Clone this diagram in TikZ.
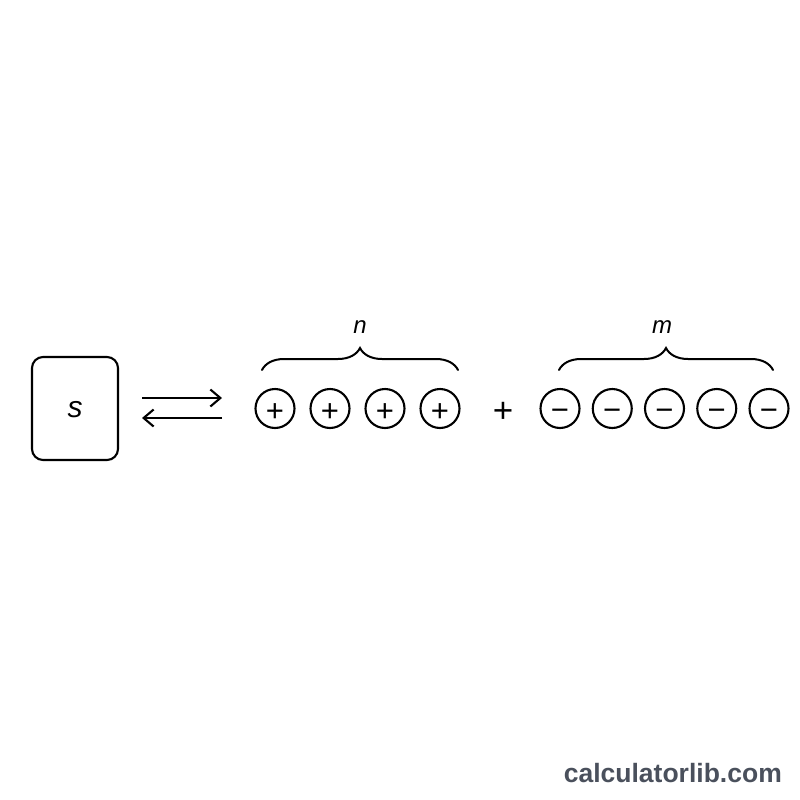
\documentclass[tikz,border=0pt]{standalone}
\usepackage{fontspec}
\setmainfont{Liberation Sans}
\usetikzlibrary{arrows.meta,decorations.pathreplacing}
\definecolor{wm}{HTML}{4A505C}
\begin{document}
\begin{tikzpicture}[x=1pt,y=-1pt,
  ion/.style={draw,circle,line width=2.1pt,minimum size=39pt,inner sep=0pt},
  sign/.style={anchor=base,inner sep=0pt,font=\fontsize{31}{31}\selectfont},
  eq/.style={line width=2.1pt,-{Straight Barb[length=10pt,width=17pt,line width=2.1pt]}},
  br/.style={decorate,decoration={brace,amplitude=22pt,aspect=0.5},line width=2pt,line cap=round},
  lab/.style={font=\fontsize{24}{24}\selectfont\itshape}]
\useasboundingbox[fill=white] (0,0) rectangle (800,800);
\node[draw,line width=2.1pt,rounded corners=11pt,minimum width=86pt,minimum height=103pt] (S) at (75,408.5) {};
\node[anchor=base,inner sep=0pt,font=\fontsize{30}{30}\selectfont\itshape] (s) at (75,417) {s};
\coordinate (a1) at (142,398); \coordinate (a2) at (222,398);
\coordinate (b1) at (222,418); \coordinate (b2) at (142,418);
\draw[eq] (a1) -- (a2);
\draw[eq] (b1) -- (b2);
\foreach \i/\x in {1/275,2/330,3/385,4/440}{
  \node[ion] (p\i) at (\x,408.5) {};
  \node[sign] (ps\i) at (\x,421) {+};}
\node[anchor=base,inner sep=0pt,font=\fontsize{35}{35}\selectfont] (plus) at (503,422) {+};
\foreach \i/\x in {1/560,2/612.25,3/664.5,4/716.75,5/769}{
  \node[ion] (m\i) at (\x,408.5) {};
  \node[sign] (ms\i) at (\x,420) {−};}
\coordinate (n1) at (262,370); \coordinate (n2) at (458,370);
\draw[br] (n1) -- (n2);
\node[lab] (n) at (360,327) {n};
\coordinate (q1) at (559,370); \coordinate (q2) at (773,370);
\draw[br] (q1) -- (q2);
\node[lab] (m) at (662,327) {m};
\node[anchor=base east,text=wm,font=\fontsize{26.5}{26.5}\selectfont\bfseries,inner sep=0pt] (wm) at (782,782) {calculatorlib.com};
\end{tikzpicture}
\end{document}
